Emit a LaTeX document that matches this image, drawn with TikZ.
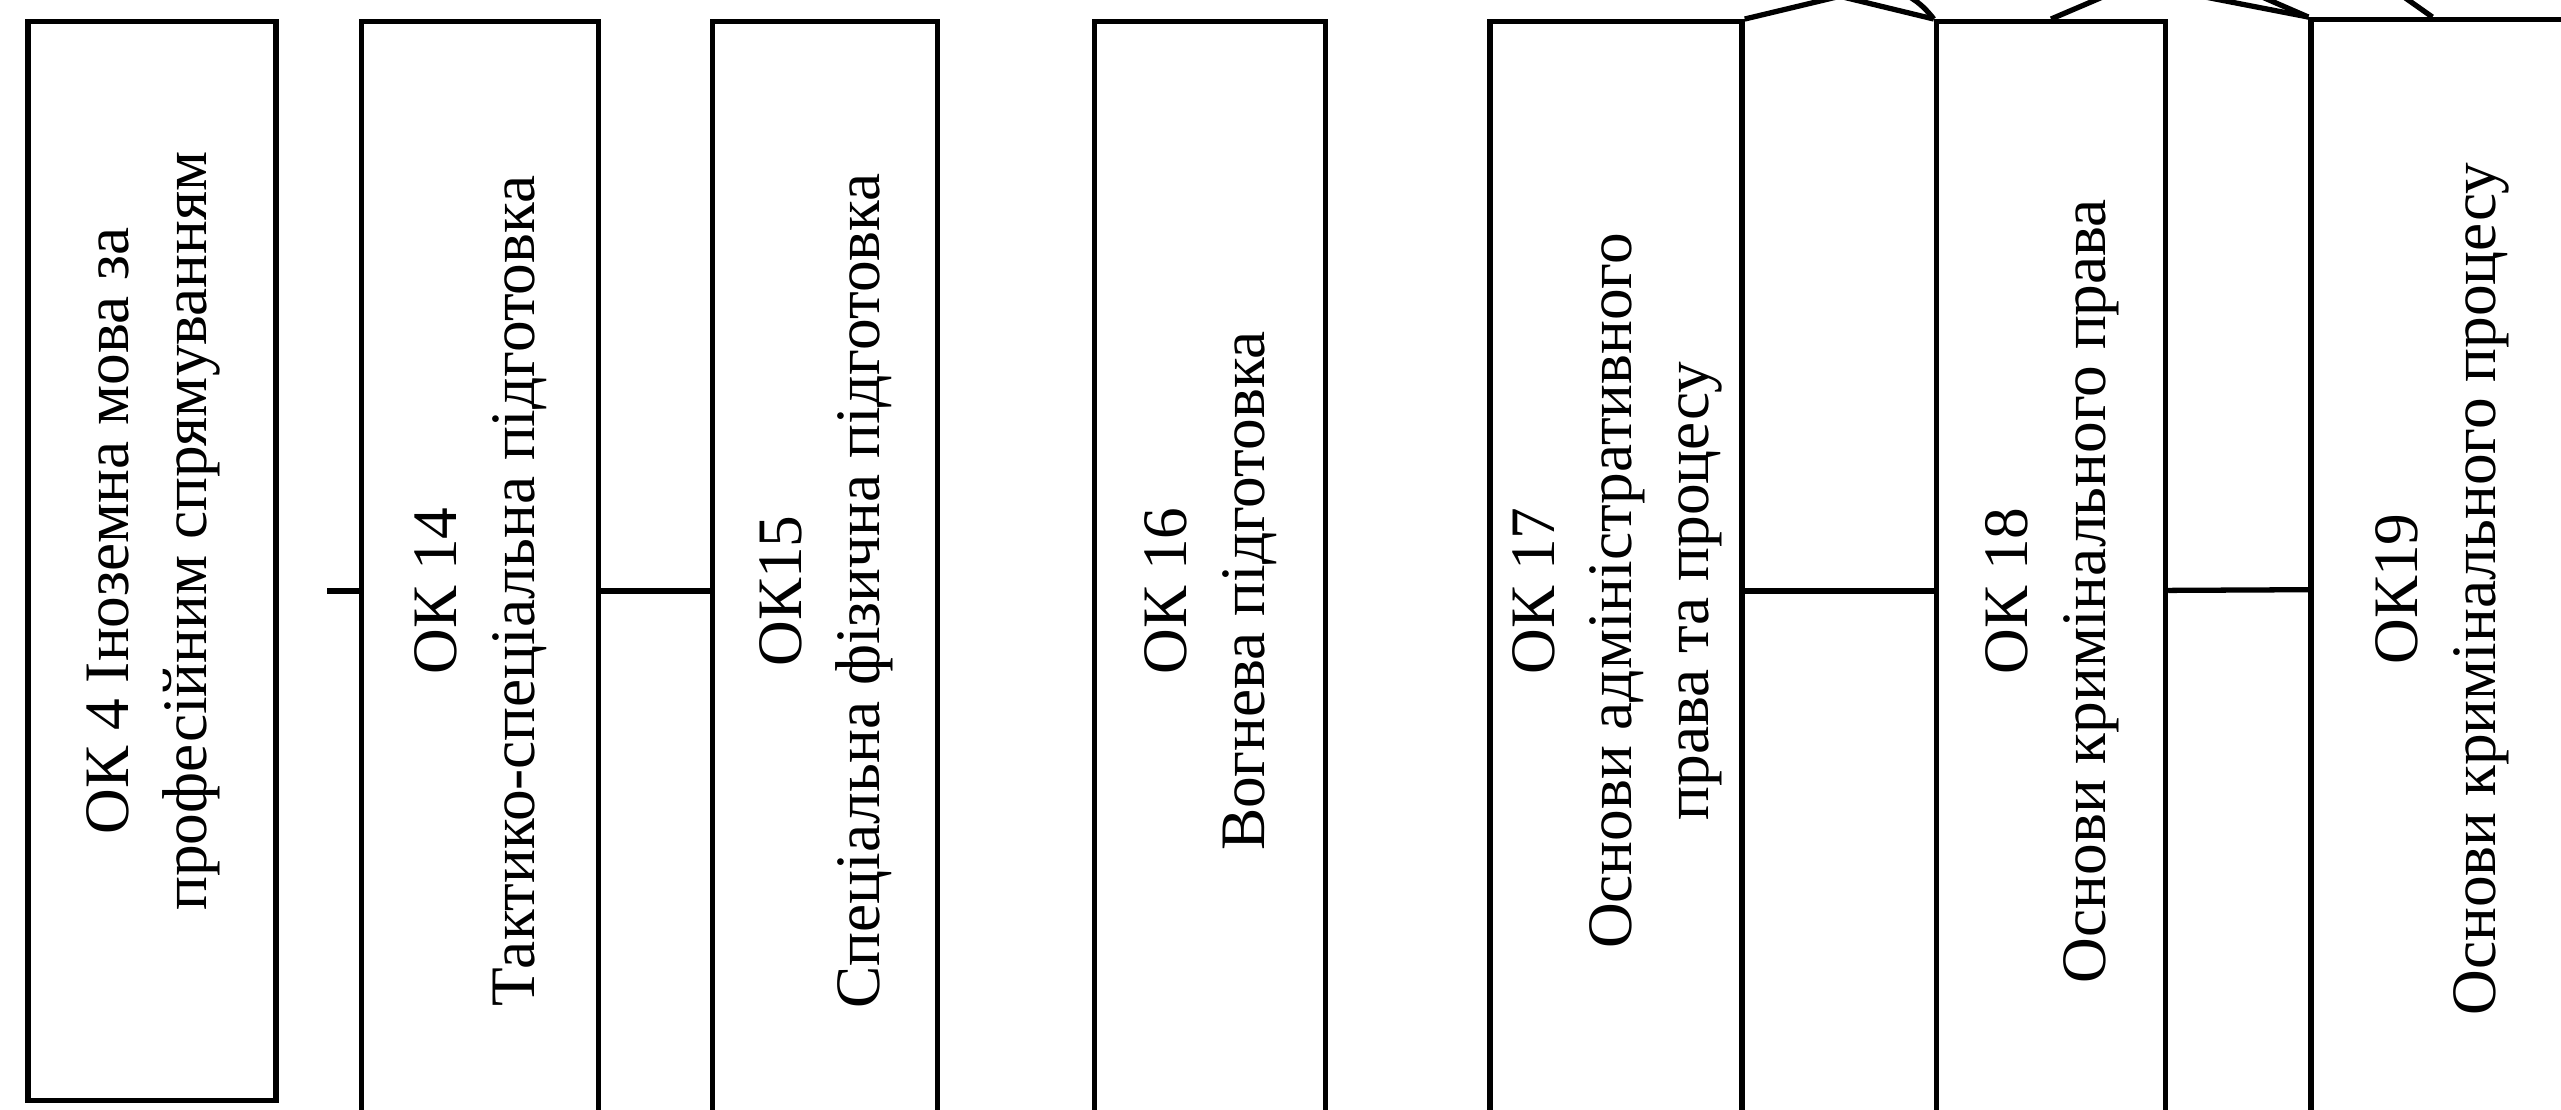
\documentclass[tikz,border=0pt]{standalone}
\usepackage{fontspec}
\setmainfont{Liberation Serif}
\usetikzlibrary{positioning}

% vertical (rotated) label, lines read from bottom to top;
% the optional argument lifts the text inside its box
\newcommand{\vlabel}[2][0pt]{\rotatebox{90}{\hspace*{#1}\begin{tabular}{@{}c@{}}#2\end{tabular}}}

\begin{document}
\begin{tikzpicture}[
  x=0.01cm, y=-0.01cm,
  kurs/.style={draw, line width=1.5pt, minimum height=11.38cm, inner sep=0pt, font=\fontsize{18}{22}\selectfont},
  link/.style={line width=1.5pt}
]
\useasboundingbox (0,0) rectangle (2561,1109);
\clip (0,0) rectangle (2561,1109);

\node[kurs, minimum width=2.48cm, minimum height=10.78cm] (ok4) at (152,561) {\vlabel[0.6cm]{ОК 4 Іноземна мова за\\професійним спрямуванням}};
\node[kurs, minimum width=2.37cm] (ok14) at (480,591) {\vlabel{ОК 14\\Тактико-спеціальна підготовка}};
\node[kurs, minimum width=2.25cm] (ok15) at (825,591) {\vlabel{ОК15\\Спеціальна фізична підготовка}};
\node[kurs, minimum width=2.31cm] (ok16) at (1210,591) {\vlabel{ОК 16\\Вогнева підготовка}};
\node[kurs, minimum width=2.52cm] (ok17) at (1616,591) {\vlabel{ОК 17\\Основи адміністративного\\права та процесу}};
\node[kurs, minimum width=2.29cm] (ok18) at (2051,591) {\vlabel{ОК 18\\Основи кримінального права}};
\node[kurs, minimum width=2.60cm] (ok19) at (2441,589) {\vlabel{ОК19\\Основи кримінального процесу}};

% links between the blocks
\coordinate (stub) at (327,591);
\draw[link] (stub) -- (ok14);
\draw[link] (ok14) -- (ok15);
\draw[link] (ok17) -- (ok18);
\draw[link] (ok18) -- (ok19);

% links running up, out of the frame
\coordinate (up1) at (1866,-10);
\coordinate (up2) at (1814,-10);
\coordinate (up3) at (1895,-10);
\coordinate (up4) at (2119,-10);
\coordinate (up5) at (2169,-10);
\coordinate (up6) at (2246,-10);
\coordinate (up7) at (2394,-10);
\draw[link] (ok17.north east) -- (up1);
\draw[link] (ok18.north west) -- (up2);
\draw[link] (ok18.north west) to[bend right=15] (up3);
\draw[link] (ok18.north) -- (up4);
\draw[link] (ok19.north west) -- (up5);
\draw[link] (ok19.north west) -- (up6);
\draw[link] ([xshift=1.24cm]ok19.north west) -- (up7);
\end{tikzpicture}
\end{document}
